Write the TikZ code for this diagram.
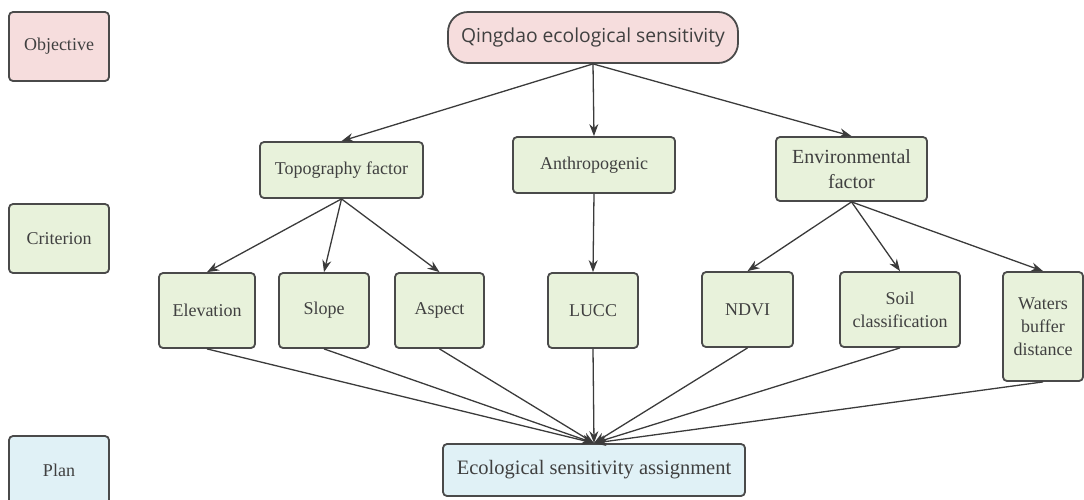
\documentclass[tikz,border=0pt]{standalone}
\usepackage{fontspec}
\setmainfont{Liberation Serif}
\newfontfamily\goalfont{Open Sans}
\usetikzlibrary{positioning}
\usetikzlibrary{arrows.meta}
\definecolor{pinkfill}{HTML}{F6DDDD}
\definecolor{greenfill}{HTML}{E8F2DB}
\definecolor{bluefill}{HTML}{E0F1F6}
\definecolor{border}{HTML}{4A4A4A}
\definecolor{textgray}{HTML}{404040}

\begin{document}
\begin{tikzpicture}[x=1pt,y=-1pt,
	box/.style={draw=border,line width=1.8pt,rounded corners=4pt,text=textgray,
		font=\fontsize{18}{23}\selectfont,align=center,inner sep=0pt},
	conn/.style={-{Stealth[length=12pt,width=9pt]},line width=1.3pt,draw=border!80!black}]
	\useasboundingbox (0,0) rectangle (1084,499);

	% level labels
	\node[box,fill=pinkfill,minimum width=100pt,minimum height=69pt] (objective) at (59,46.5) {Objective};
	\node[box,fill=greenfill,minimum width=100pt,minimum height=69pt] (criterion) at (59,238.5) {Criterion};
	\node[box,fill=bluefill,minimum width=100pt,minimum height=69pt] (plan) at (59,470.5) {Plan};

	% goal and result
	\node[box,fill=pinkfill,rounded corners=20pt,minimum width=290pt,minimum height=51pt,
		font=\goalfont\fontsize{19.3}{23}\selectfont] (goal) at (593,37.5) {Qingdao ecological sensitivity};
	\node[box,fill=bluefill,minimum width=302pt,minimum height=52pt,
		font=\fontsize{20.5}{24}\selectfont] (result) at (594,470) {Ecological sensitivity assignment};

	% factors
	\node[box,fill=greenfill,minimum width=163pt,minimum height=56pt] (factor0) at (341.5,170) {Topography factor};
	\node[box,fill=greenfill,minimum width=162pt,minimum height=56pt] (factor1) at (594,165) {Anthropogenic};
	\node[box,fill=greenfill,minimum width=151pt,minimum height=64pt,
		font=\fontsize{20}{25}\selectfont] (factor2) at (851.5,169) {Environmental\\factor};

	% indices
	\node[box,fill=greenfill,minimum width=96pt,minimum height=75pt] (index0) at (207,310.5) {Elevation};
	\node[box,fill=greenfill,minimum width=90pt,minimum height=75pt] (index1) at (324,310.5) {Slope};
	\node[box,fill=greenfill,minimum width=89pt,minimum height=75pt] (index2) at (439.5,310.5) {Aspect};
	\node[box,fill=greenfill,minimum width=90pt,minimum height=75pt] (index3) at (593,310.5) {LUCC};
	\node[box,fill=greenfill,minimum width=91pt,minimum height=75pt] (index4) at (747.5,309.5) {NDVI};
	\node[box,fill=greenfill,minimum width=120pt,minimum height=75pt] (index5) at (900,309.5) {Soil\\classification};
	\node[box,fill=greenfill,minimum width=80pt,minimum height=109pt] (index6) at (1043,326.5) {Waters\\buffer\\distance};

	% connectors goal -> factors
	\foreach \i in {0,...,2} \draw[conn] (goal.south) -- (factor\i.north);

	% connectors factors -> indices
	\foreach \j in {0,...,2} \draw[conn] (factor0.south) -- (index\j.north);
	\draw[conn] (factor1.south) -- (index3.north);
	\foreach \j in {4,...,6} \draw[conn] (factor2.south) -- (index\j.north);

	% connectors indices -> result
	\foreach \j in {0,...,6} \draw[conn] (index\j.south) -- (result.north);
\end{tikzpicture}
\end{document}
